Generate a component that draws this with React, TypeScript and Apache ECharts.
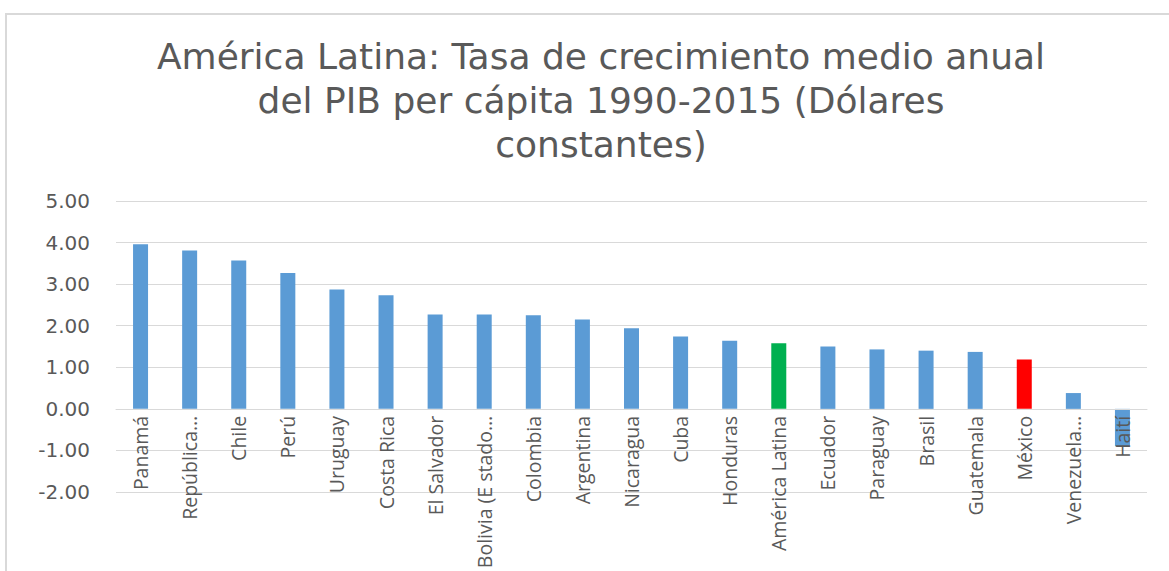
import React, { useEffect, useRef } from "react";
import * as echarts from "echarts";

const categories = [
  "Panamá", "República…", "Chile", "Perú", "Uruguay", "Costa Rica", "El Salvador",
  "Bolivia (E stado…", "Colombia", "Argentina", "Nicaragua", "Cuba", "Honduras",
  "América Latina", "Ecuador", "Paraguay", "Brasil", "Guatemala", "México", "Venezuela…", "Haití",
];
const values = [
  3.96, 3.81, 3.57, 3.27, 2.87, 2.73, 2.27, 2.27, 2.25, 2.15, 1.94, 1.74, 1.64,
  1.58, 1.5, 1.43, 1.4, 1.37, 1.19, 0.38, -0.9,
];
const barColors: Record<string, string> = {
  "América Latina": "#00b050",
  "México": "#ff0000",
};
const defaultColor = "#5b9bd5";
const titleText = "América Latina: Tasa de crecimiento medio anual\ndel PIB per cápita 1990-2015 (Dólares\nconstantes)";
const yMin = -2;
const yMax = 5;

export default function App() {
  const ref = useRef<HTMLDivElement>(null);
  useEffect(() => {
    if (!ref.current) return;
    const chart = echarts.init(ref.current, null, { renderer: "svg" });
    const gridTop = 201;
    const gridBottom = 79;
    const plotH = 571 - gridTop - gridBottom;
    const zeroOffset = (plotH * (0 - yMin)) / (yMax - yMin);
    chart.setOption({
      animation: false,
      backgroundColor: "#ffffff",
      title: {
        text: titleText,
        left: 596,
        textAlign: "center",
        top: 29,
        textStyle: {
          fontFamily: "DejaVu Sans",
          fontSize: 36,
          fontWeight: "normal",
          color: "#595959",
          lineHeight: 44,
        },
      },
      graphic: [
        {
          type: "rect",
          shape: { x: 6, y: 14, width: 1200, height: 600 },
          style: { fill: "none", stroke: "#d9d9d9", lineWidth: 2 },
          silent: true,
        },
      ],
      grid: {
        left: 116,
        right: 22,
        top: gridTop,
        bottom: gridBottom,
        containLabel: false,
        outerBoundsMode: "none",
      },
      xAxis: {
        type: "category",
        data: categories,
        z: 10,
        offset: -zeroOffset,
        axisLine: { show: true, onZero: false, lineStyle: { color: "#d9d9d9", width: 1 } },
        axisTick: { show: false },
        axisLabel: {
          rotate: 90,
          interval: 0,
          margin: 7,
          fontFamily: "Open Sans",
          fontSize: 19.5,
          color: "#595959",
        },
      },
      yAxis: {
        type: "value",
        min: yMin,
        max: yMax,
        interval: 1,
        axisLine: { show: false },
        axisTick: { show: false },
        splitLine: { lineStyle: { color: "#d9d9d9", width: 1 } },
        axisLabel: {
          formatter: (v: number) => v.toFixed(2),
          fontFamily: "DejaVu Sans",
          fontSize: 20,
          color: "#595959",
          margin: 26,
        },
      },
      series: [
        {
          type: "bar",
          barWidth: 15,
          data: values.map((v, i) => ({
            value: v,
            itemStyle: { color: barColors[categories[i]] || defaultColor },
          })),
        },
      ],
    });
    return () => chart.dispose();
  }, []);
  return (
    <div
      ref={ref}
      style={{ position: "fixed", left: 0, top: 0, width: 1169, height: 571 }}
    />
  );
}
